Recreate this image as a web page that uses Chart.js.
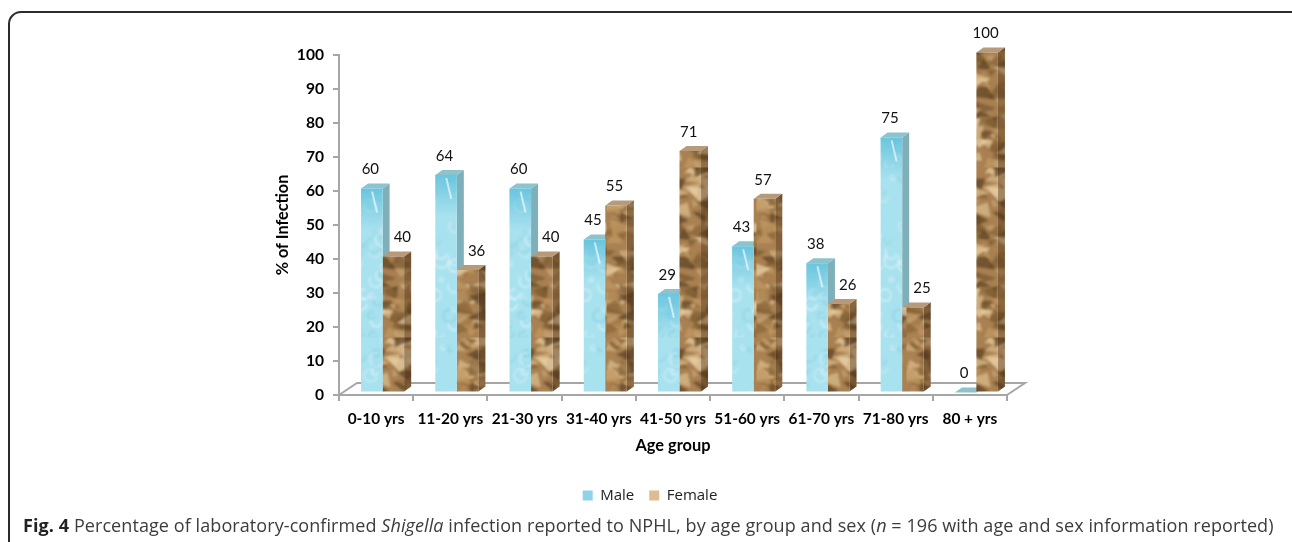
<!DOCTYPE html>
<html>
<head>
<meta charset="utf-8">
<title>Shigella infection by age group and sex</title>
<script src="https://cdn.jsdelivr.net/npm/chart.js@4"></script>
<style>
  html, body { margin: 0; padding: 0; background: #fff; overflow: hidden; }
  #wrap { position: relative; width: 1292px; height: 542px; overflow: hidden; }
  #card { position: absolute; left: 8px; top: 11px; width: 1296px; height: 560px; box-sizing: border-box;
          border: 2px solid #2b2b2b; border-radius: 13px; }
  #prodChart { position: absolute; left: 0; top: 0; }
  #caption { position: absolute; left: 23px; top: 513px; white-space: nowrap; color: #3c3c3c;
             font: 400 18px "Open Sans", sans-serif; letter-spacing: 0.08px; }
  #caption b { color: #222; }
</style>
</head>
<body>
<div id="wrap">
  <div id="card"></div>
  <canvas id="prodChart" width="1292" height="542"></canvas>
  <div id="caption"><b>Fig. 4</b> Percentage of laboratory-confirmed <i>Shigella</i> infection reported to NPHL, by age group and sex (<i>n</i> = 196 with age and sex information reported)</div>
</div>
<script>
const categories = ['0-10 yrs', '11-20 yrs', '21-30 yrs', '31-40 yrs', '41-50 yrs', '51-60 yrs', '61-70 yrs', '71-80 yrs', '80 + yrs'];
const male = [60, 64, 60, 45, 29, 43, 38, 75, 0];
const female = [40, 36, 40, 55, 71, 57, 26, 25, 100];
const seriesNames = ['Male', 'Female'];
const axisColor = '#a6a6a6';

// repeatable noise for the bar textures only
const noise = i => {
  const v = Math.sin(i * 127.1 + 11.7) * 43758.5453;
  return v - Math.floor(v);
};

function makeWater() {
  const c = document.createElement('canvas');
  c.width = 150; c.height = 170;
  const g = c.getContext('2d');
  g.fillStyle = '#a9e2ef';
  g.fillRect(0, 0, 150, 170);
  g.filter = 'blur(0.8px)';
  for (let i = 0; i < 110; i++) {
    const x = noise(i) * 150, y = noise(i + 300) * 170, r = 2 + noise(i + 600) * 6;
    g.strokeStyle = i % 3 ? 'rgba(225,247,252,0.7)' : 'rgba(125,200,220,0.5)';
    g.lineWidth = 1 + noise(i + 900);
    g.beginPath();
    g.arc(x, y, r, 0, Math.PI * (1 + noise(i + 50)));
    g.stroke();
  }
  return g.createPattern(c, 'repeat');
}

function makeRock() {
  const tones = ['#c7a473', '#8a6639', '#ead2a9', '#5c4122', '#a97f4f', '#c29a64', '#7a5930', '#dcbe8e'];
  const c = document.createElement('canvas');
  c.width = 150; c.height = 170;
  const g = c.getContext('2d');
  g.fillStyle = '#a98152';
  g.fillRect(0, 0, 150, 170);
  g.filter = 'blur(0.9px)';
  for (let i = 0; i < 300; i++) {
    const x = noise(i + 20) * 150, y = noise(i + 420) * 170, s = 6 + noise(i + 820) * 13;
    const a = noise(i + 1200) * 6.28;
    g.fillStyle = tones[i % tones.length];
    g.globalAlpha = 0.72;
    g.beginPath();
    g.moveTo(x + Math.cos(a) * s, y + Math.sin(a) * s * 0.6);
    g.lineTo(x + Math.cos(a + 2.1) * s, y + Math.sin(a + 2.1) * s * 0.6);
    g.lineTo(x + Math.cos(a + 4.2) * s * 0.7, y + Math.sin(a + 4.2) * s * 0.5);
    g.closePath();
    g.fill();
  }
  return g.createPattern(c, 'repeat');
}

const water = makeWater();
const rock = makeRock();

// depth of the fake 3d box, and how far bars sit off the axis corner
const depthX = 7, depthY = 5, shiftX = 6.5, shiftY = -2.5;

function drawSides(chart, index) {
  const { ctx } = chart;
  const isMale = index === 0;
  chart.getDatasetMeta(index).data.forEach(bar => {
    const l = bar.x - bar.width / 2, r = bar.x + bar.width / 2;
    const t = bar.y, b = bar.base;
    if (b > t) {
      ctx.beginPath();
      ctx.moveTo(r, t);
      ctx.lineTo(r + depthX, t - depthY);
      ctx.lineTo(r + depthX, b - depthY);
      ctx.lineTo(r, b);
      ctx.closePath();
      ctx.fillStyle = isMale ? '#7fb0ba' : rock;
      ctx.fill();
      if (!isMale) {
        ctx.fillStyle = 'rgba(60,35,15,0.35)';
        ctx.fill();
      }
    }
    ctx.beginPath();
    ctx.moveTo(l, t);
    ctx.lineTo(l + depthX, t - depthY);
    ctx.lineTo(r + depthX, t - depthY);
    ctx.lineTo(r, t);
    ctx.closePath();
    ctx.fillStyle = isMale ? '#8cc3cc' : '#b59a7c';
    ctx.fill();
  });
}

const box3d = {
  id: 'box3d',
  beforeDatasetsDraw(chart) {
    const { ctx, chartArea: a } = chart;
    ctx.save();
    ctx.strokeStyle = axisColor;
    ctx.lineWidth = 2;
    ctx.beginPath();
    ctx.moveTo(a.left, a.bottom);
    ctx.lineTo(a.left + 18, a.bottom - 12);
    ctx.lineTo(a.right + 18, a.bottom - 12);
    ctx.lineTo(a.right, a.bottom);
    ctx.stroke();
    // sides go down first so the fronts the library draws sit over them
    ctx.translate(shiftX, shiftY);
    drawSides(chart, 0);
    drawSides(chart, 1);
    ctx.restore();
  },
  beforeDatasetDraw(chart) {
    chart.ctx.save();
    chart.ctx.translate(shiftX, shiftY);
  },
  afterDatasetDraw(chart, args) {
    const { ctx } = chart;
    if (args.index === 0) {
      args.meta.data.forEach(bar => {
        const h = bar.base - bar.y;
        if (h <= 0) return;
        const l = bar.x - bar.width / 2;
        const g = ctx.createLinearGradient(0, bar.y, 0, bar.y + Math.min(h, 42));
        g.addColorStop(0, 'rgba(90,190,218,0.8)');
        g.addColorStop(1, 'rgba(90,190,218,0)');
        ctx.fillStyle = g;
        ctx.fillRect(l, bar.y, bar.width, Math.min(h, 42));
        // glossy streak near the top
        ctx.strokeStyle = 'rgba(255,255,255,0.6)';
        ctx.lineWidth = 2;
        ctx.beginPath();
        ctx.moveTo(l + 11, bar.y + 3);
        ctx.lineTo(l + 16, bar.y + Math.min(h, 24));
        ctx.stroke();
      });
    }
    ctx.restore();
  },
  afterDatasetsDraw(chart) {
    const { ctx } = chart;
    ctx.save();
    ctx.font = '15px Lato';
    ctx.fillStyle = '#111';
    ctx.textAlign = 'center';
    ctx.textBaseline = 'middle';
    chart.data.datasets.forEach((ds, k) => {
      chart.getDatasetMeta(k).data.forEach((bar, i) => {
        // female labels step aside when the male bar is the taller one
        let nudge = -1.5;
        if (k === 1 && female[i] < male[i]) nudge = 9;
        ctx.fillText(ds.data[i], bar.x + shiftX + nudge, bar.y + shiftY - 19);
      });
    });
    ctx.restore();
  }
};

const prodChart = new Chart(document.getElementById('prodChart').getContext('2d'), {
  type: 'bar',
  data: {
    labels: categories,
    datasets: [
      { label: seriesNames[0], data: male, backgroundColor: water, clip: false,
        categoryPercentage: 0.58, barPercentage: 1 },
      { label: seriesNames[1], data: female, backgroundColor: rock, clip: false,
        categoryPercentage: 0.58, barPercentage: 1 }
    ]
  },
  options: {
    responsive: false,
    animation: false,
    layout: { padding: { top: 55, left: 273, right: 265, bottom: 29 } },
    scales: {
      x: {
        afterFit(s) { s.height = 78; },
        grid: { drawOnChartArea: false, color: axisColor, tickLength: 6, lineWidth: 2 },
        border: { color: axisColor, width: 2 },
        ticks: { color: '#000', font: { family: 'Lato', size: 15.4, weight: 'bold' }, padding: 9, maxRotation: 0, autoSkip: false },
        title: { display: true, text: 'Age group', color: '#000', font: { family: 'Lato', size: 16.4, weight: 'bold' }, padding: { bottom: 17 } }
      },
      y: {
        min: 0,
        max: 100,
        afterFit(s) { s.width = 66; },
        grid: { drawOnChartArea: false, color: axisColor, tickLength: 6, lineWidth: 2 },
        border: { color: axisColor, width: 2 },
        ticks: { stepSize: 10, color: '#000', font: { family: 'Lato', size: 15.6, weight: 'bold' }, padding: 9 },
        title: { display: true, text: '% of Infection', color: '#000', font: { family: 'Lato', size: 16.2, weight: 'bold' }, padding: 0 }
      },
      spare: {
        position: 'right',
        display: true,
        afterFit(s) { s.width = 20; },
        grid: { display: false },
        border: { display: false },
        ticks: { display: false }
      }
    },
    plugins: {
      tooltip: { enabled: false },
      legend: {
        position: 'bottom',
        labels: {
          boxWidth: 10,
          boxHeight: 10,
          padding: 15,
          color: '#222',
          font: { family: 'Open Sans', size: 15 },
          generateLabels(chart) {
            return Chart.defaults.plugins.legend.labels.generateLabels(chart).map(item => {
              item.fillStyle = item.datasetIndex === 0 ? '#8ed4e8' : '#dcbd92';
              item.lineWidth = 0;
              return item;
            });
          }
        }
      }
    }
  },
  plugins: [box3d]
});
</script>
</body>
</html>
